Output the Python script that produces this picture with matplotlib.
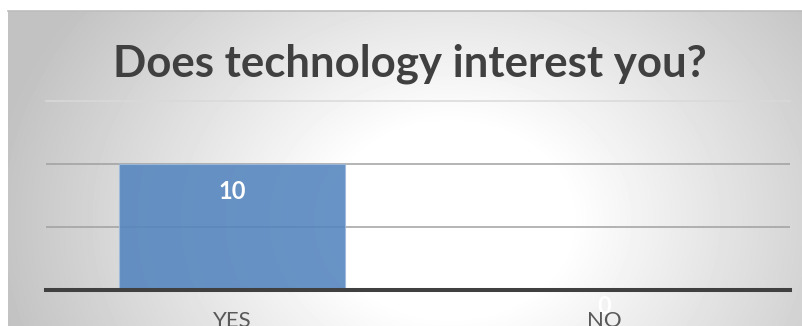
import numpy as np
import matplotlib
matplotlib.use("Agg")
import matplotlib.pyplot as plt
from matplotlib.lines import Line2D

categories = ["YES", "NO"]
values = [10, 0]
grid_levels = [5, 10]
top_level = 15

W, H = 802, 326
BAR, BAR_EDGE, TEXT, AXIS = "#5384be", "#9fbadc", "#404040", "#404040"

plt.rcParams["font.family"] = ["Lato", "DejaVu Sans"]
fig = plt.figure(figsize=(W / 100, H / 100), dpi=100)
fig.patch.set_facecolor("white")

# radial grey-to-white backdrop of the chart frame
bg = fig.add_axes([8 / W, 0, (W - 8) / W, (H - 11) / H], zorder=-10)
xx, yy = np.meshgrid(np.arange(8, W), np.arange(11, H))
r = np.hypot((xx - 450) / 400, (yy - 220) / 320)
shade = 1 - 0.24 * np.clip((r - 0.3) / 0.85, 0, 1)
bg.imshow(shade, cmap="gray", vmin=0, vmax=1, aspect="auto", interpolation="bilinear")
bg.axis("off")
fig.add_artist(Line2D([8 / W, 1], [(H - 11) / H] * 2, color="#bdbdbd", lw=1.2))

ax = fig.add_axes([46 / W, (H - 290) / H, (790 - 46) / W, (290 - 101) / H])
ax.set_facecolor("none")
x = np.arange(len(categories))
for lv in grid_levels:
    ax.axhline(lv, color="#a0a0a0", lw=1.1, zorder=0.5)
ax.axhline(top_level, color="#d9d9d9", lw=1.1, zorder=0.5, clip_on=False)
bars = ax.bar(x, values, width=0.605, color=BAR, alpha=0.88, edgecolor=BAR_EDGE, lw=0.8, zorder=1)
for xi, v in zip(x, values):
    # inside-end labels; the zero bar's label ends up tucked behind its category name
    ax.annotate(str(v), (xi, v), xytext=(0, -20 if v > 0 else -12), textcoords="offset points",
                ha="center", va="center", color="white", fontsize=17,
                fontweight="bold", zorder=1.2, annotation_clip=False)
ax.set_xlim(-0.5, len(categories) - 0.5)
ax.set_ylim(0, top_level)
ax.set_yticks([])
ax.set_xticks(x, categories)
ax.tick_params(axis="x", length=0, pad=15, labelsize=16, labelcolor="#595959")
for s in ["top", "left", "right"]:
    ax.spines[s].set_visible(False)
ax.spines["bottom"].set_color(AXIS)
ax.spines["bottom"].set_linewidth(2.9)

fig.text(410 / W, (H - 77) / H, "Does technology interest you?", ha="center", va="baseline",
         fontsize=31.5, fontweight="bold", color=TEXT)

fig.savefig("out.png", dpi=100)
